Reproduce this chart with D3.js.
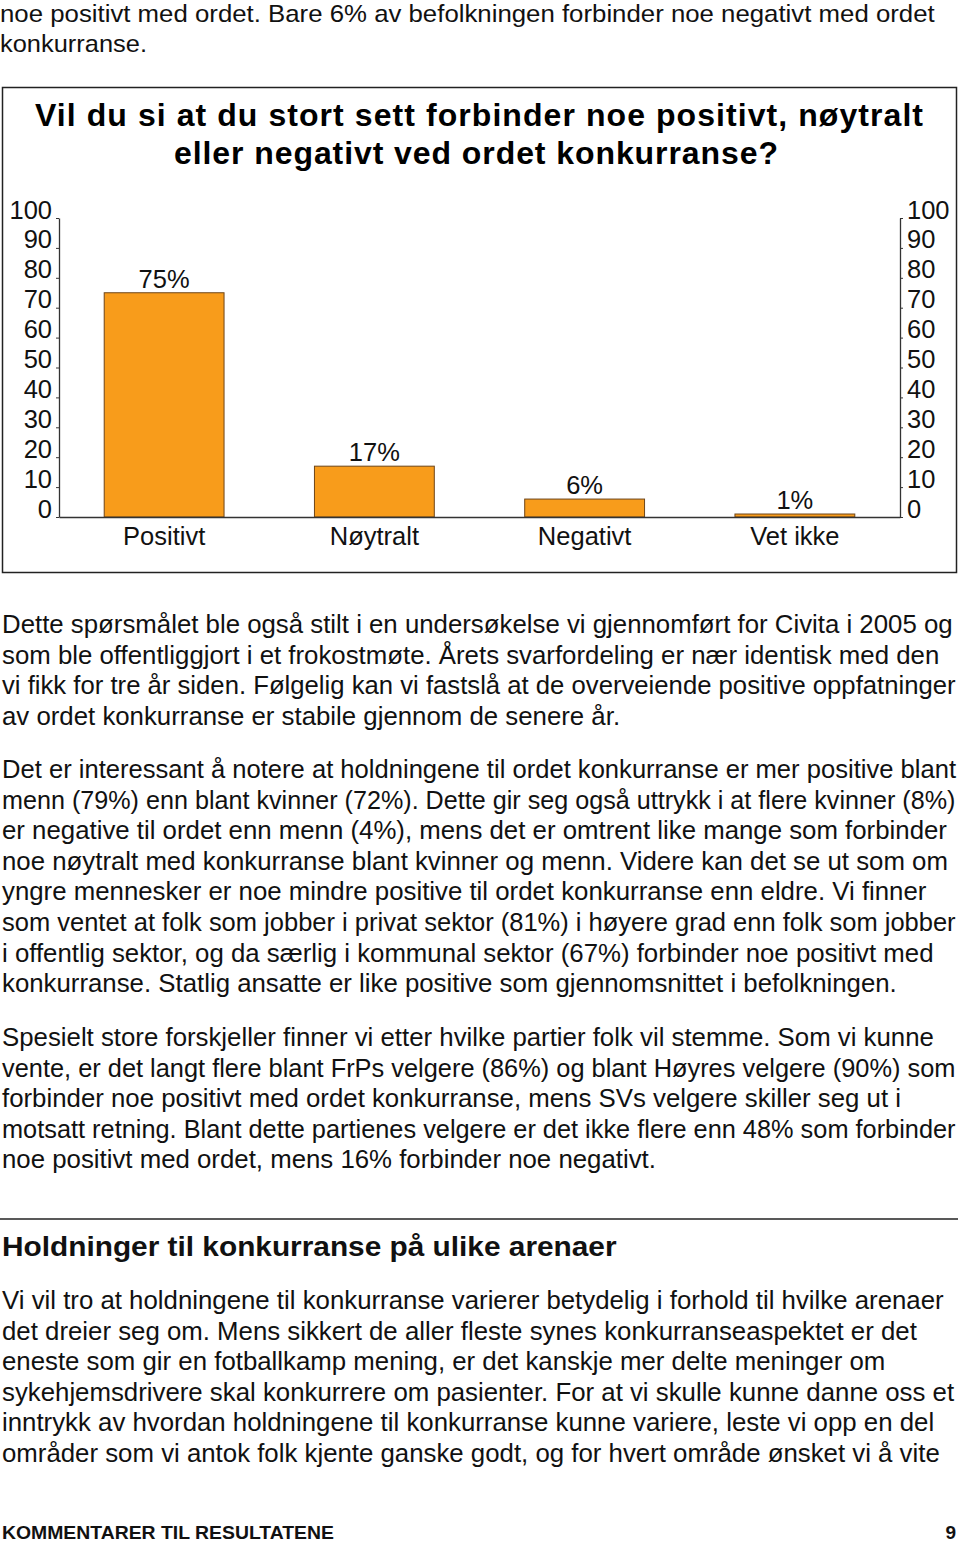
<!DOCTYPE html>
<html>
<head>
<meta charset="utf-8">
<script src="https://cdn.jsdelivr.net/npm/d3@7"></script>
<style>
  body { margin: 0; background: #fff; }
  svg { display: block; font-family: "Liberation Sans", Arial, Helvetica, sans-serif; }
</style>
</head>
<body>
<svg id="page"></svg>
<script>
// chart data
const categories = ["Positivt", "Nøytralt", "Negativt", "Vet ikke"];
const values = [75, 17, 6, 1];
const valueLabels = ["75%", "17%", "6%", "1%"];
const yTicks = [0, 10, 20, 30, 40, 50, 60, 70, 80, 90, 100];

const titleLines = [
    "Vil du si at du stort sett forbinder noe positivt, nøytralt",
    "eller negativt ved ordet konkurranse?"
];

const introLines = [
    "noe positivt med ordet. Bare 6% av befolkningen forbinder noe negativt med ordet",
    "konkurranse."
];

const para1 = [
    "Dette spørsmålet ble også stilt i en undersøkelse vi gjennomført for Civita i 2005 og",
    "som ble offentliggjort i et frokostmøte. Årets svarfordeling er nær identisk med den",
    "vi fikk for tre år siden. Følgelig kan vi fastslå at de overveiende positive oppfatninger",
    "av ordet konkurranse er stabile gjennom de senere år."
];
const para2 = [
    "Det er interessant å notere at holdningene til ordet konkurranse er mer positive blant",
    "menn (79%) enn blant kvinner (72%). Dette gir seg også uttrykk i at flere kvinner (8%)",
    "er negative til ordet enn menn (4%), mens det er omtrent like mange som forbinder",
    "noe nøytralt med konkurranse blant kvinner og menn. Videre kan det se ut som om",
    "yngre mennesker er noe mindre positive til ordet konkurranse enn eldre. Vi finner",
    "som ventet at folk som jobber i privat sektor (81%) i høyere grad enn folk som jobber",
    "i offentlig sektor, og da særlig i kommunal sektor (67%) forbinder noe positivt med",
    "konkurranse. Statlig ansatte er like positive som gjennomsnittet i befolkningen."
];
const para3 = [
    "Spesielt store forskjeller finner vi etter hvilke partier folk vil stemme. Som vi kunne",
    "vente, er det langt flere blant FrPs velgere (86%) og blant Høyres velgere (90%) som",
    "forbinder noe positivt med ordet konkurranse, mens SVs velgere skiller seg ut i",
    "motsatt retning. Blant dette partienes velgere er det ikke flere enn 48% som forbinder",
    "noe positivt med ordet, mens 16% forbinder noe negativt."
];
const heading = "Holdninger til konkurranse på ulike arenaer";
const para4 = [
    "Vi vil tro at holdningene til konkurranse varierer betydelig i forhold til hvilke arenaer",
    "det dreier seg om. Mens sikkert de aller fleste synes konkurranseaspektet er det",
    "eneste som gir en fotballkamp mening, er det kanskje mer delte meninger om",
    "sykehjemsdrivere skal konkurrere om pasienter. For at vi skulle kunne danne oss et",
    "inntrykk av hvordan holdningene til konkurranse kunne variere, leste vi opp en del",
    "områder som vi antok folk kjente ganske godt, og for hvert område ønsket vi å vite"
];
const footerText = "KOMMENTARER TIL RESULTATENE";
const pageNumber = "9";

const WIDTH = 960;
const HEIGHT = 1543;
const LINE = 30.6;
const BODY = 25.8;
const MAXW = 954;

const svg = d3.select("#page")
    .attr("width", WIDTH)
    .attr("height", HEIGHT);

// squeeze a text horizontally so it fits in w (or exactly w when force)
function fit(sel, x0, y0, w, force) {
    sel.each(function() {
        const len = this.getComputedTextLength();
        if (len > w || force) {
            d3.select(this)
                .attr("x", 0).attr("y", 0)
                .attr("transform", "translate(" + x0 + "," + y0 + ") scale(" + (w / len) + ",1)");
        }
    });
}

// text blocks
function writeLines(lines, top) {
    svg.append("g")
        .selectAll("text")
        .data(lines)
        .enter()
        .append("text")
        .attr("x", 2)
        .attr("y", function(d, i) { return top + i * LINE; })
        .attr("font-size", BODY)
        .attr("fill", "#111")
        .text(function(d) { return d; })
        .each(function(d, i) { fit(d3.select(this), 2, top + i * LINE, MAXW, false); });
}

// intro lines (squeezed in the original)
fit(svg.append("text")
    .attr("font-size", 24)
    .attr("fill", "#111")
    .text(introLines[0]), 0, 22, 935, true);
fit(svg.append("text")
    .attr("font-size", 24)
    .attr("fill", "#111")
    .text(introLines[1]), 0, 52, 147, true);

// chart box
svg.append("rect")
    .attr("x", 2.5).attr("y", 87.5)
    .attr("width", 954).attr("height", 485)
    .attr("fill", "none")
    .attr("stroke", "#222")
    .attr("stroke-width", 1.5);

svg.append("text")
    .attr("x", 35).attr("y", 126)
    .attr("font-size", 32)
    .attr("font-weight", "bold")
    .attr("textLength", 888)
    .attr("lengthAdjust", "spacing")
    .text(titleLines[0]);
svg.append("text")
    .attr("x", 174).attr("y", 164)
    .attr("font-size", 32)
    .attr("font-weight", "bold")
    .attr("textLength", 604)
    .attr("lengthAdjust", "spacing")
    .text(titleLines[1]);

// scales
const x = d3.scaleBand()
    .domain(categories)
    .range([59, 900])
    .paddingInner(0.43)
    .paddingOuter(0.215);

const y = d3.scaleLinear()
    .domain([0, 100])
    .range([517, 218]);

const chart = svg.append("g");

// bars
chart.selectAll(".bar")
    .data(values)
    .enter()
    .append("rect")
    .attr("class", "bar")
    .attr("x", function(d, i) { return x(categories[i]); })
    .attr("y", function(d) { return y(d); })
    .attr("width", x.bandwidth())
    .attr("height", function(d) { return y(0) - y(d); })
    .attr("fill", "#F89C1B")
    .attr("stroke", "#6e4519")
    .attr("stroke-width", 1);

// value labels
chart.selectAll(".val")
    .data(values)
    .enter()
    .append("text")
    .attr("class", "val")
    .attr("x", function(d, i) { return x(categories[i]) + x.bandwidth() / 2; })
    .attr("y", function(d) { return y(d) - 5; })
    .attr("text-anchor", "middle")
    .attr("font-size", 25.5)
    .attr("fill", "#111")
    .text(function(d, i) { return valueLabels[i]; });

// axes
const leftAxis = chart.append("g")
    .attr("transform", "translate(59,0)")
    .call(d3.axisLeft(y).tickValues(yTicks).tickSize(3).tickSizeOuter(0).tickPadding(4));

const rightAxis = chart.append("g")
    .attr("transform", "translate(900,0)")
    .call(d3.axisRight(y).tickValues(yTicks).tickSize(3).tickSizeOuter(0).tickPadding(4));

const bottomAxis = chart.append("g")
    .attr("transform", "translate(0,517)")
    .call(d3.axisBottom(x).tickSize(0).tickSizeOuter(0));

[leftAxis, rightAxis, bottomAxis].forEach(function(a) {
    a.select(".domain").attr("stroke", "#333").attr("stroke-width", 1.3);
    a.selectAll(".tick line").attr("stroke", "#333");
    a.selectAll("text")
        .attr("font-family", "Liberation Sans, Arial, Helvetica, sans-serif")
        .attr("fill", "#111");
});
leftAxis.selectAll("text").attr("font-size", 25.5).attr("dy", "0");
rightAxis.selectAll("text").attr("font-size", 25.5).attr("dy", "0");
bottomAxis.selectAll("text").attr("font-size", 25.5).attr("y", 28).attr("dy", "0");

// body text
writeLines(para1, 633);
writeLines(para2, 778);
writeLines(para3, 1046);

svg.append("line")
    .attr("x1", 0).attr("x2", 958)
    .attr("y1", 1219).attr("y2", 1219)
    .attr("stroke", "#222")
    .attr("stroke-width", 1.5);

fit(svg.append("text")
    .attr("font-size", 28)
    .attr("font-weight", "bold")
    .attr("fill", "#111")
    .text(heading), 2, 1256, 615, true);

writeLines(para4, 1309);

fit(svg.append("text")
    .attr("font-size", 19)
    .attr("font-weight", "bold")
    .attr("fill", "#111")
    .text(footerText), 2, 1539, 332, true);
svg.append("text")
    .attr("x", 956).attr("y", 1539)
    .attr("text-anchor", "end")
    .attr("font-size", 19)
    .attr("font-weight", "bold")
    .attr("fill", "#111")
    .text(pageNumber);
</script>
</body>
</html>
